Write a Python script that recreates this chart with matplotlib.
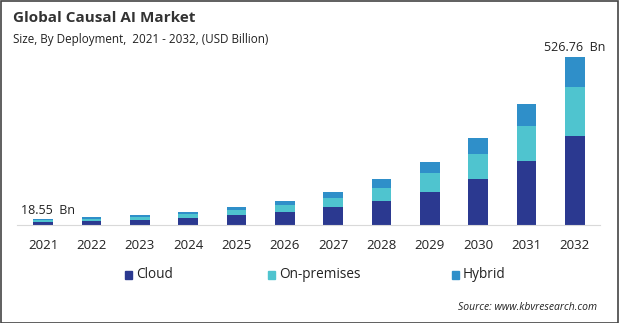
import numpy as np
import matplotlib.pyplot as plt
from matplotlib.patches import Rectangle

plt.rcParams['font.family'] = ['Open Sans', 'DejaVu Sans']

years = ['2021', '2022', '2023', '2024', '2025', '2026',
         '2027', '2028', '2029', '2030', '2031', '2032']
cloud = [10.0, 13, 17, 23, 32, 41, 56, 75, 103, 144, 201, 279]
on_premises = [5.5, 7, 9, 12, 15, 22, 28, 41, 60, 78, 110, 154]
hybrid = [3.05, 4, 6, 6, 10, 12, 19, 28, 34, 50, 68, 93.76]
series_names = ['Cloud', 'On-premises', 'Hybrid']
colors = ['#2b3990', '#4fc4cf', '#2f8fc9']

fig = plt.figure(figsize=(6.19, 3.23), dpi=100)
ax = fig.add_axes([17 / 619, 1 - 225 / 323, 583 / 619, 175 / 323])

x = np.arange(len(years))
bottom = np.zeros(len(years))
for vals, c in zip([cloud, on_premises, hybrid], colors):
    ax.bar(x, vals, width=0.41, bottom=bottom, color=c)
    bottom += np.array(vals)

ax.set_xlim(-0.54, 11.52)
ax.set_ylim(0, 548)
for s in ['top', 'right', 'left']:
    ax.spines[s].set_visible(False)
ax.spines['bottom'].set_color('#d9d9d9')
ax.set_yticks([])
ax.set_xticks(x)
ax.set_xticklabels(years, fontsize=9.5, color='#222222')
ax.tick_params(axis='x', length=0, pad=10)

ax.text(0.1, bottom[0] + 6, '%.2f  Bn' % bottom[0], ha='center', va='bottom',
        fontsize=9, color='#222222')
ax.text(11, bottom[-1] + 8, '%.2f  Bn' % bottom[-1], ha='center', va='bottom',
        fontsize=9, color='#222222')

fig.text(13 / 619, 1 - 18 / 323, 'Global Causal AI Market', fontsize=11,
         fontweight='bold', color='#333333', va='center')
fig.text(13 / 619, 1 - 39 / 323, 'Size, By Deployment,  2021 - 2032, (USD Billion)',
         fontsize=8.4, color='#222222', va='center')

# legend
leg_x = [125, 268, 452]
for name, c, lx in zip(series_names, colors, leg_x):
    fig.patches.append(Rectangle((lx / 619, 1 - 279 / 323), 7 / 619, 8 / 323,
                                 transform=fig.transFigure, color=c))
    fig.text((lx + 11) / 619, 1 - 275 / 323, name, fontsize=9.8,
             color='#222222', va='center')

fig.text(597 / 619, 1 - 307 / 323, 'Source: www.kbvresearch.com', fontsize=7.5,
         style='italic', color='#222222', ha='right', va='center')

fig.patches.append(Rectangle((0.5 / 619, 0.5 / 323), 617.5 / 619, 321.5 / 323,
                             transform=fig.transFigure, fill=False,
                             edgecolor='#444444', linewidth=1.2))

fig.savefig('out.png', dpi=100)
